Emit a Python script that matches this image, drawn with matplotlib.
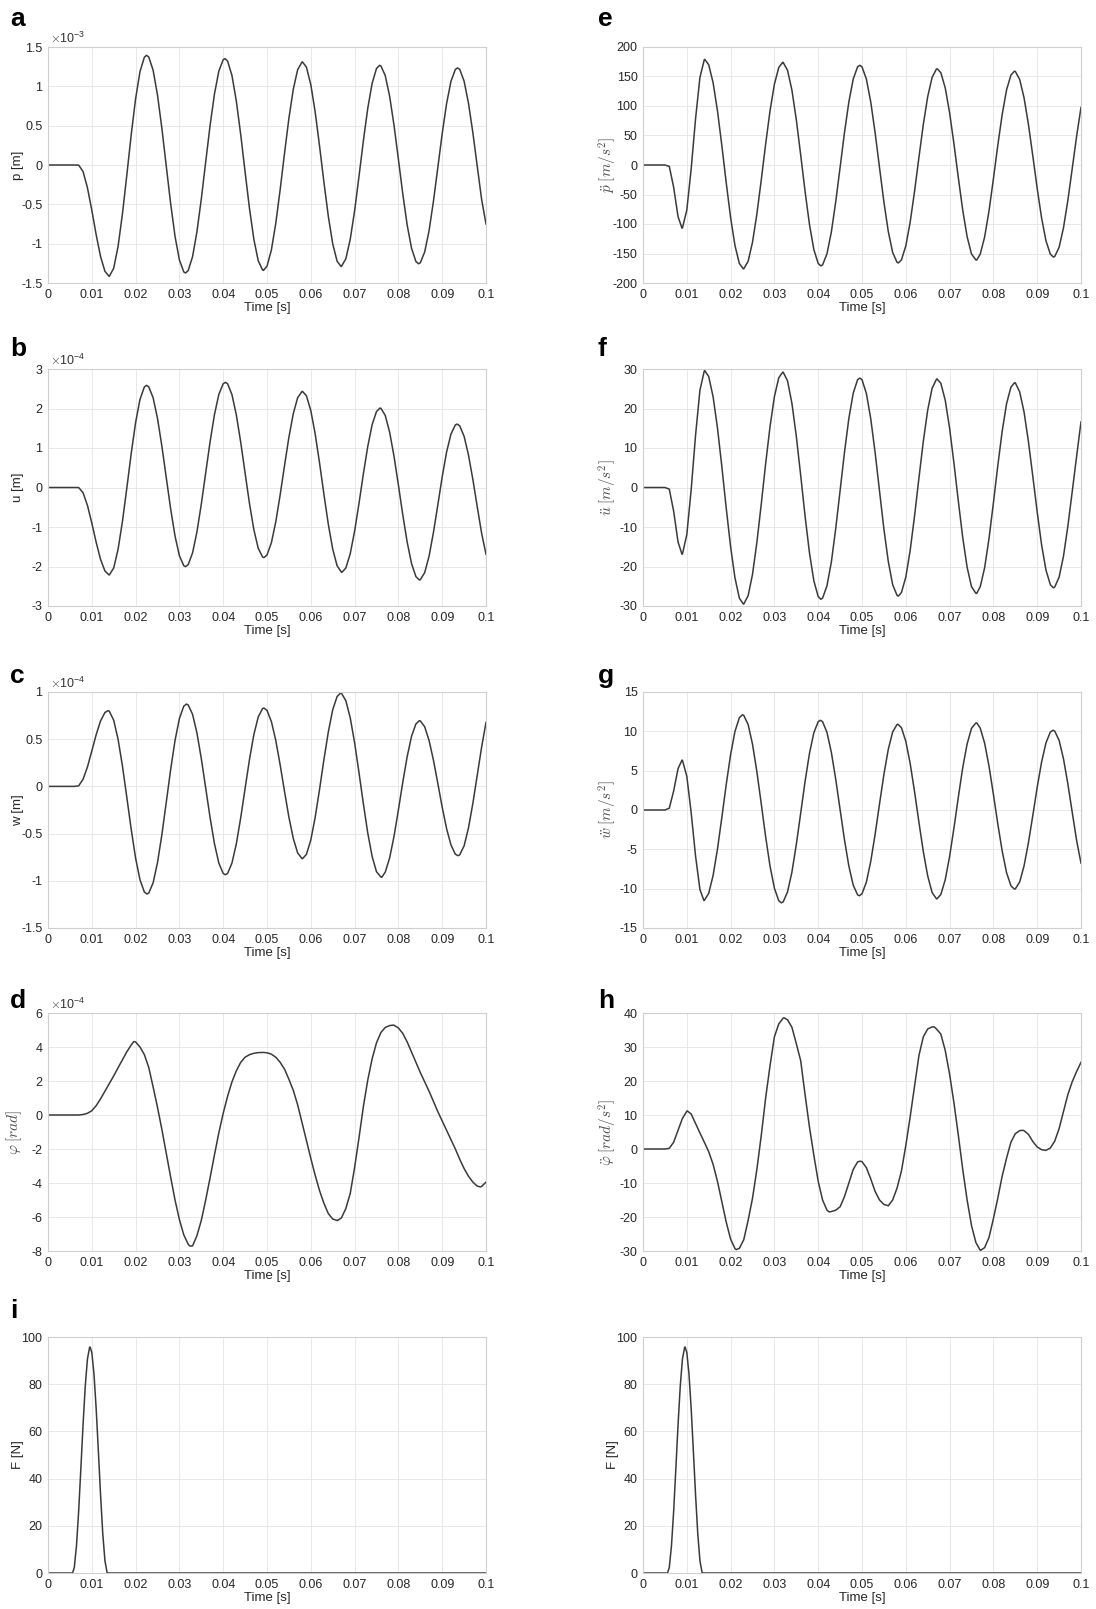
import numpy as np
import matplotlib.pyplot as plt

plt.rcParams['font.family'] = ['Liberation Sans', 'DejaVu Sans']
plt.rcParams['mathtext.fontset'] = 'cm'

# time grid of the sampled responses [s]
t = np.linspace(0, 0.1, 101)

# a: p [x1e-3 m]
p = [0, 0, 0, 0, 0, 0, 0,
     -0.001, -0.083, -0.288, -0.574, -0.887, -1.164, -1.352, -1.415,
     -1.312, -1.034, -0.620, -0.126, 0.386, 0.842, 1.186, 1.370,
     1.373, 1.205, 0.889, 0.466, -0.014, -0.490, -0.906, -1.207, -1.359,
     -1.343, -1.166, -0.850, -0.432, 0.037, 0.500, 0.901, 1.193, 1.339,
     1.321, 1.138, 0.812, 0.386, -0.089, -0.552, -0.945, -1.218, -1.335,
     -1.286, -1.081, -0.743, -0.315, 0.148, 0.593, 0.962, 1.212, 1.309,
     1.244, 1.022, 0.673, 0.241, -0.220, -0.652, -1.000, -1.223,
     -1.289, -1.192, -0.945, -0.584, -0.146, 0.306, 0.719, 1.038, 1.227,
     1.260, 1.136, 0.874, 0.504, 0.073, -0.367, -0.762, -1.058, -1.227,
     -1.243, -1.106, -0.836, -0.461, -0.033, 0.399, 0.780, 1.064, 1.215,
     1.216, 1.066, 0.786, 0.411, -0.015, -0.437, -0.750]
p_peak_t = [0.01395, 0.0225, 0.0314, 0.0404, 0.0492, 0.0581, 0.0669, 0.0757, 0.0846, 0.0935]
p_peak = [-1.415, 1.394, -1.373, 1.352, -1.339, 1.31, -1.289, 1.267, -1.255, 1.234]

# b: u [x1e-4 m]
u = [0, 0, 0, 0, 0, 0, 0,
     -0.001, -0.131, -0.451, -0.898, -1.388, -1.821, -2.115, -2.214,
     -2.038, -1.564, -0.856, -0.011, 0.863, 1.643, 2.231, 2.545,
     2.550, 2.272, 1.749, 1.046, 0.250, -0.539, -1.227, -1.728, -1.980,
     -1.954, -1.658, -1.126, -0.422, 0.367, 1.153, 1.843, 2.356, 2.627,
     2.627, 2.351, 1.837, 1.145, 0.366, -0.406, -1.069, -1.540, -1.762,
     -1.710, -1.398, -0.872, -0.190, 0.553, 1.272, 1.868, 2.274, 2.432,
     2.322, 1.948, 1.357, 0.620, -0.175, -0.931, -1.558, -1.980, -2.145,
     -2.039, -1.677, -1.108, -0.405, 0.344, 1.036, 1.589, 1.924,
     2.007, 1.824, 1.400, 0.788, 0.063, -0.692, -1.381, -1.925, -2.256,
     -2.335, -2.155, -1.739, -1.139, -0.441, 0.270, 0.896, 1.353, 1.584,
     1.561, 1.296, 0.823, 0.204, -0.486, -1.157, -1.690]
u_peak_t = [0.01395, 0.0225, 0.0314, 0.0405, 0.0493, 0.0581, 0.0671, 0.0758, 0.0848, 0.0934]
u_peak = [-2.214, 2.586, -2.003, 2.662, -1.775, 2.434, -2.147, 2.011, -2.341, 1.606]

# c: w [x1e-4 m]
w = [0, 0, 0, 0, 0, 0, 0,
     0.006, 0.075, 0.205, 0.375, 0.548, 0.694, 0.783,
     0.796, 0.701, 0.499, 0.215, -0.118, -0.456, -0.760, -0.989, -1.119,
     -1.130, -1.022, -0.807, -0.511, -0.169, 0.177, 0.486, 0.719, 0.850,
     0.863, 0.764, 0.567, 0.295, -0.016, -0.329, -0.606, -0.812, -0.922,
     -0.922, -0.812, -0.608, -0.332, -0.022, 0.285, 0.549, 0.736, 0.825,
     0.805, 0.687, 0.488, 0.229, -0.053, -0.326, -0.551, -0.705, -0.765,
     -0.720, -0.568, -0.327, -0.031, 0.285, 0.577, 0.811, 0.952,
     0.987, 0.908, 0.727, 0.463, 0.147, -0.183, -0.492, -0.742, -0.904, -0.960,
     -0.908, -0.758, -0.529, -0.249, 0.044, 0.315, 0.531, 0.662,
     0.694, 0.632, 0.487, 0.278, 0.032, -0.221, -0.447, -0.620, -0.718,
     -0.725, -0.630, -0.440, -0.180, 0.118, 0.416, 0.678]
w_peak_t = [0.0137, 0.0226, 0.0316, 0.0405, 0.0493, 0.0581, 0.0668, 0.0762, 0.0848, 0.0936]
w_peak = [0.802, -1.14, 0.872, -0.936, 0.83, -0.766, 0.989, -0.962, 0.696, -0.734]

# d: phi [x1e-4 rad]
phi = [0, 0, 0, 0, 0, 0, 0, 0,
       0.03, 0.10, 0.25, 0.55, 0.95, 1.40, 1.85, 2.30, 2.78, 3.25, 3.72, 4.12,
       4.30, 4.00, 3.55, 2.80, 1.65, 0.45, -0.85, -2.25, -3.65, -5.00,
       -6.15, -7.05, -7.60, -7.70, -7.10, -6.20, -5.00, -3.70, -2.35, -1.05,
       0.10, 1.10, 1.95, 2.60, 3.10, 3.40, 3.55, 3.63, 3.67, 3.68,
       3.66, 3.58, 3.40, 3.10, 2.70, 2.10, 1.45, 0.60, -0.45, -1.50,
       -2.55, -3.55, -4.45, -5.20, -5.80, -6.12, -6.20, -6.05, -5.50, -4.62,
       -3.10, -1.35, 0.49, 2.05, 3.30, 4.25, 4.85, 5.15, 5.26, 5.28,
       5.12, 4.80, 4.30, 3.70, 3.10, 2.50, 1.95, 1.40, 0.80, 0.20,
       -0.35, -0.90, -1.45, -2.00, -2.60, -3.15, -3.60, -3.95, -4.18, -4.20,
       -3.95]
phi_peak_t = [0.0196, 0.0324, 0.0492, 0.0661, 0.0789, 0.0987]
phi_peak = [4.32, -7.71, 3.68, -6.21, 5.29, -4.23]

# e: p acceleration [m/s^2]
p_acc = [0, 0, 0, 0, 0, 0,
         -2.3, -37.8, -87.5, -106.7, -76.5, -6.5, 78.5, 148.5, 178.7,
         169.9, 139.6, 92.0, 32.9, -29.9, -89.0, -136.6, -166.9,
         -176.0, -163.2, -131.0, -83.1, -25.3, 35.4, 91.8, 136.9, 165.4,
         173.8, 160.5, 126.9, 76.9, 17.2, -44.6, -100.4, -143.1, -167.0,
         -169.3, -150.6, -113.7, -62.5, -4.1, 54.9, 107.0, 145.7, 166.5,
         166.3, 145.6, 106.7, 54.4, -4.4, -62.7, -112.7, -148.2, -165.0,
         -160.9, -137.2, -96.7, -44.6, 13.1, 68.7, 115.8, 148.4, 162.7,
         156.4, 130.8, 88.6, 35.5, -22.0, -76.6, -121.5, -150.8, -161.0,
         -150.9, -122.0, -77.6, -23.6, 33.1, 85.4, 127.2, 152.4,
         158.7, 145.0, 113.8, 68.8, 15.2, -39.8, -89.7, -128.4, -151.1,
         -155.1, -139.5, -106.5, -60.1, -5.9, 48.8, 97.5]
p_acc_peak_t = [0.0089, 0.0141, 0.0229, 0.0319, 0.0406, 0.0495, 0.0583, 0.0672, 0.0762, 0.0848, 0.0937]
p_acc_peak = [-107, 179, -176, 174, -171, 169, -166, 163, -161, 159, -156]

# f: u acceleration [m/s^2]
u_acc = [0, 0, 0, 0, 0, 0,
         -0.4, -6.0, -13.8, -16.85, -11.95, -0.55, 13.25, 24.65, 29.55,
         28.1, 23.0, 15.1, 5.3, -5.2, -15.0, -22.9, -28.0,
         -29.5, -27.4, -22.0, -13.9, -4.2, 6.0, 15.4, 23.0, 27.8,
         29.2, 27.0, 21.3, 13.0, 3.1, -7.2, -16.5, -23.6, -27.6,
         -28.0, -24.9, -18.9, -10.4, -0.8, 8.9, 17.5, 23.9, 27.3,
         27.3, 23.8, 17.4, 8.8, -0.9, -10.5, -18.7, -24.6, -27.3,
         -26.6, -22.7, -15.9, -7.2, 2.4, 11.7, 19.6, 25.1, 27.4,
         26.4, 22.1, 15.0, 6.1, -3.5, -12.7, -20.2, -25.1, -26.8,
         -25.1, -20.3, -12.9, -3.9, 5.5, 14.2, 21.2, 25.4,
         26.5, 24.2, 19.1, 11.6, 2.8, -6.2, -14.5, -20.9, -24.6,
         -25.2, -22.7, -17.4, -9.8, -1.0, 7.9, 16.6]
u_acc_peak_t = [0.0089, 0.0141, 0.0229, 0.0319, 0.0406, 0.0495, 0.0583, 0.0671, 0.0762, 0.0848, 0.0937]
u_acc_peak = [-16.9, 29.6, -29.5, 29.2, -28.3, 27.7, -27.5, 27.5, -26.8, 26.5, -25.4]

# g: w acceleration [m/s^2]
w_acc = [0, 0, 0, 0, 0, 0,
         0.23, 2.42, 5.25, 6.32, 4.30, -0.36, -5.86, -10.11,
         -11.49, -10.60, -8.33, -4.99, -0.95, 3.23, 7.04, 9.99, 11.73,
         12.03, 10.86, 8.37, 4.87, 0.78, -3.39, -7.13, -9.94, -11.54,
         -11.68, -10.41, -7.89, -4.40, -0.41, 3.62, 7.17, 9.81, 11.23,
         11.23, 9.87, 7.33, 3.92, 0.05, -3.79, -7.13, -9.56, -10.79,
         -10.65, -9.17, -6.53, -3.07, 0.77, 4.52, 7.71, 9.92, 10.87,
         10.46, 8.74, 5.91, 2.32, -1.57, -5.29, -8.38, -10.48, -11.29,
         -10.74, -8.87, -5.91, -2.27, 1.66, 5.40, 8.39, 10.38, 11.07,
         10.40, 8.49, 5.57, 1.99, -1.75, -5.20, -7.96, -9.63,
         -10.03, -9.15, -7.10, -4.15, -0.69, 2.89, 6.09, 8.53, 9.91,
         10.03, 8.85, 6.51, 3.32, -0.30, -3.87, -6.76]
w_acc_peak_t = [0.0089, 0.0139, 0.0227, 0.0316, 0.0405, 0.0494, 0.0582, 0.0671, 0.0762, 0.0848, 0.0936]
w_acc_peak = [6.34, -11.5, 12.1, -11.8, 11.4, -10.9, 10.9, -11.3, 11.07, -10.06, 10.14]

# h: phi acceleration [rad/s^2]
phi_acc = [0, 0, 0, 0, 0, 0,
           0.2, 2.0, 5.5, 9.0, 11.1, 10.3, 7.5, 4.7, 2.0, -0.8, -4.5, -9.5,
           -15.5, -21.5, -26.5, -29.3, -29.2, -26.7, -21.0, -14.5, -6.0, 4.0,
           15.0, 24.5, 33.0, 36.8, 38.5, 38.0, 35.8, 31.0, 26.0, 16.0, 6.5,
           -1.8, -9.5, -15.0, -18.0, -18.4, -18.0, -17.0, -14.0, -10.0, -6.0,
           -3.8, -3.7, -5.5, -8.8, -12.5, -15.0, -16.3, -16.7, -15.0, -11.5,
           -6.5, 1.0, 9.5, 18.5, 27.5, 33.0, 35.3, 35.9, 35.3, 33.8, 29.0,
           22.0, 13.5, 4.0, -6.0, -15.0, -22.5, -27.5, -29.8, -29.0, -26.0,
           -20.5, -14.5, -8.0, -2.7, 2.0, 4.5, 5.4, 5.4, 4.3, 2.2, 0.6, -0.2,
           -0.4, 0.3, 2.3, 6.0, 11.0, 16.0, 19.8, 22.8, 25.5]
phi_acc_peak_t = [0.0101, 0.0213, 0.0322, 0.0425, 0.0495, 0.0560, 0.0665, 0.0771, 0.0867, 0.0919]
phi_acc_peak = [11.2, -29.6, 38.6, -18.5, -3.6, -16.7, 35.9, -29.8, 5.5, -0.4]

# i: excitation force [N], finer sampling around the pulse
force_t = [0, 0.0056, 0.006, 0.0065, 0.007, 0.0075, 0.008, 0.0085, 0.009,
           0.0095, 0.0096, 0.010, 0.0105, 0.011, 0.0115, 0.012, 0.0125,
           0.013, 0.0135, 0.0136, 0.1]
force = [0, 0, 2.3, 11.5, 26.2, 44.2, 62.7, 79.0, 90.6, 95.6, 95.8, 93.5,
         84.3, 69.6, 51.6, 33.1, 16.8, 5.2, 0.1, 0, 0]


def with_peaks(tt, vv, pt, pv):
    # merge the regular samples with the read-off extrema, sorted by time
    x = np.concatenate([tt, pt])
    y = np.concatenate([vv, pv])
    order = np.argsort(x, kind='stable')
    return x[order], y[order]


W, H = 1096, 1609
fig = plt.figure(figsize=(W / 100, H / 100), dpi=100)

cols = [(48, 486), (643, 1081)]
rows = [(47, 283), (369, 606), (692, 928), (1013, 1251), (1337, 1573)]
letter_y = [26, 356, 683, 1008, 1318]
letter_x = [10, 598]

# (col, row, x, y, ylim, ystep, ylabel, is_math, exponent, letter)
panels = [
    (0, 0, *with_peaks(t, p, p_peak_t, p_peak), (-1.5, 1.5), 0.5, 'p [m]', False, '-3', 'a'),
    (0, 1, *with_peaks(t, u, u_peak_t, u_peak), (-3, 3), 1, 'u [m]', False, '-4', 'b'),
    (0, 2, *with_peaks(t, w, w_peak_t, w_peak), (-1.5, 1), 0.5, 'w [m]', False, '-4', 'c'),
    (0, 3, *with_peaks(t, phi, phi_peak_t, phi_peak), (-8, 6), 2, r'$\varphi\;[rad]$', True, '-4', 'd'),
    (0, 4, force_t, force, (0, 100), 20, 'F [N]', False, None, 'i'),
    (1, 0, *with_peaks(t, p_acc, p_acc_peak_t, p_acc_peak), (-200, 200), 50,
     r'$\ddot{p}\;[m/s^2]$', True, None, 'e'),
    (1, 1, *with_peaks(t, u_acc, u_acc_peak_t, u_acc_peak), (-30, 30), 10,
     r'$\ddot{u}\;[m/s^2]$', True, None, 'f'),
    (1, 2, *with_peaks(t, w_acc, w_acc_peak_t, w_acc_peak), (-15, 15), 5,
     r'$\ddot{w}\;[m/s^2]$', True, None, 'g'),
    (1, 3, *with_peaks(t, phi_acc, phi_acc_peak_t, phi_acc_peak), (-30, 40), 10,
     r'$\ddot{\varphi}\;[rad/s^2]$', True, None, 'h'),
    (1, 4, force_t, force, (0, 100), 20, 'F [N]', False, None, None),
]

fmt = plt.FuncFormatter(lambda v, pos: '%g' % round(v, 6))

for col, row, x, y, ylim, ystep, ylab, is_math, expo, letter in panels:
    x0, x1 = cols[col]
    y0, y1 = rows[row]
    ax = fig.add_axes([x0 / W, 1 - y1 / H, (x1 - x0) / W, (y1 - y0) / H])
    ax.plot(x, y, color='#3a3a3a', lw=1.1, solid_joinstyle='round')
    ax.set_xlim(0, 0.1)
    ax.set_ylim(*ylim)
    ax.set_xticks(np.arange(0, 0.1001, 0.01))
    ax.set_yticks(np.arange(ylim[0], ylim[1] + ystep / 2, ystep))
    ax.xaxis.set_major_formatter(fmt)
    ax.yaxis.set_major_formatter(fmt)
    ax.grid(True, color='#e8e8e8', lw=0.7)
    ax.set_axisbelow(True)
    for s in ax.spines.values():
        s.set_color('#cfcfcf')
        s.set_linewidth(0.8)
    ax.tick_params(length=0, pad=4, labelsize=9, labelcolor='#262626')
    ax.set_xlabel('Time [s]', fontsize=9.5, color='#262626', labelpad=1)
    if is_math:
        ax.set_ylabel(ylab, fontsize=11, color='#4d4d4d')
    else:
        ax.set_ylabel(ylab, fontsize=9.5, color='#262626')
    ax.yaxis.set_label_coords(-24 / (x1 - x0), 0.5)
    if expo:
        ax.text(0.005, 1.005, r'$\times\mathregular{10^{%s}}$' % expo,
                transform=ax.transAxes, fontsize=9, color='#333333',
                ha='left', va='bottom')
    if letter:
        fig.text(letter_x[col] / W, 1 - letter_y[row] / H, letter,
                 fontsize=19, fontweight='bold', ha='left', va='baseline')

fig.savefig('out.png', dpi=100, facecolor='white')
